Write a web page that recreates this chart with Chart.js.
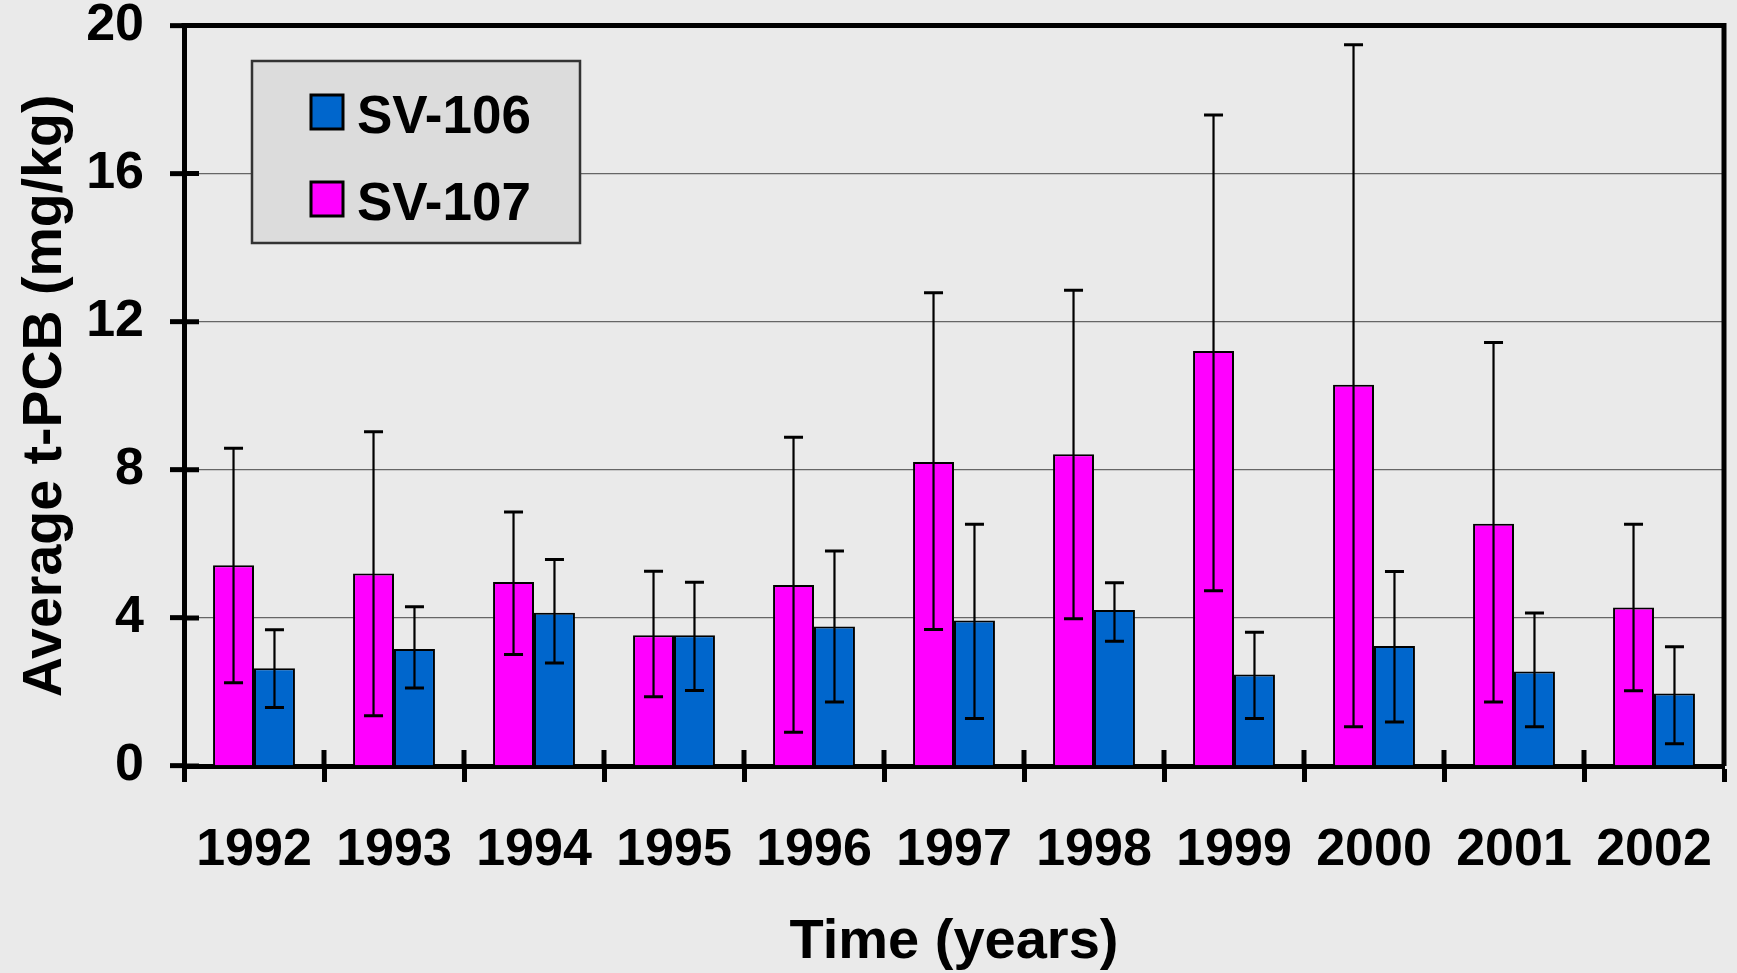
<!DOCTYPE html>
<html>
<head>
<meta charset="utf-8">
<script src="https://cdn.jsdelivr.net/npm/chart.js@4.4.1/dist/chart.umd.min.js"></script>
<style>
  html, body { margin: 0; padding: 0; background: #eaeaea; }
  #wrap { width: 1737px; height: 973px; position: relative; }
</style>
</head>
<body>
<div id="wrap"><canvas id="pcb"></canvas></div>
<script>
// years on the x axis
const years = ['1992', '1993', '1994', '1995', '1996', '1997', '1998', '1999', '2000', '2001', '2002'];

// SV-107 (magenta) means and error bar ends
const sv107Mean  = [5.42, 5.20, 4.97, 3.53, 4.89, 8.21, 8.42, 11.21, 10.30, 6.54, 4.28];
const sv107Upper = [8.58, 9.03, 6.86, 5.26, 8.88, 12.78, 12.85, 17.58, 19.48, 11.44, 6.53];
const sv107Lower = [2.25, 1.36, 3.01, 1.87, 0.91, 3.69, 3.98, 4.73, 1.06, 1.73, 2.03];

// SV-106 (blue)
const sv106Mean  = [2.64, 3.16, 4.14, 3.53, 3.77, 3.93, 4.21, 2.47, 3.24, 2.55, 1.96];
const sv106Upper = [3.68, 4.30, 5.58, 4.96, 5.81, 6.53, 4.95, 3.61, 5.25, 4.13, 3.22];
const sv106Lower = [1.58, 2.11, 2.78, 2.04, 1.73, 1.28, 3.37, 1.28, 1.19, 1.06, 0.60];

const yTicks = [0, 4, 8, 12, 16, 20];

const FONT = '"Liberation Sans", Arial, Helvetica, sans-serif';
Chart.defaults.font.family = FONT;
Chart.defaults.color = '#000';

// error bars drawn on top of each bar
const errorBars = {
    id: 'errorBars',
    afterDatasetsDraw(chart) {
        const ctx = chart.ctx;
        const y = chart.scales.y;
        ctx.save();
        ctx.strokeStyle = '#000';
        chart.data.datasets.forEach((ds, i) => {
            const meta = chart.getDatasetMeta(i);
            meta.data.forEach((bar, j) => {
                const top = y.getPixelForValue(ds.upper[j]);
                const bot = y.getPixelForValue(ds.lower[j]);
                ctx.lineWidth = 2.2;
                ctx.beginPath();
                ctx.moveTo(bar.x, top);
                ctx.lineTo(bar.x, bot);
                ctx.stroke();
                ctx.lineWidth = 3;
                ctx.beginPath();
                ctx.moveTo(bar.x - 9.5, top);
                ctx.lineTo(bar.x + 9.5, top);
                ctx.moveTo(bar.x - 9.5, bot);
                ctx.lineTo(bar.x + 9.5, bot);
                ctx.stroke();
            });
        });
        ctx.restore();
    }
};

// top/right frame and the inner half of the crossing tick marks
const frame = {
    id: 'frame',
    afterDatasetsDraw(chart) {
        const {ctx, chartArea: a} = chart;
        const x = chart.scales.x, y = chart.scales.y;
        ctx.save();
        ctx.strokeStyle = '#000';
        ctx.lineWidth = 5;
        ctx.beginPath();
        ctx.moveTo(a.left - 2.5, a.top);
        ctx.lineTo(a.right, a.top);
        ctx.lineTo(a.right, a.bottom);
        ctx.stroke();
        ctx.beginPath();
        yTicks.forEach(v => {
            const py = y.getPixelForValue(v);
            ctx.moveTo(a.left, py);
            ctx.lineTo(a.left + 15, py);
        });
        for (let i = 1; i < years.length; i++) {
            const px = (x.getPixelForValue(i - 1) + x.getPixelForValue(i)) / 2;
            ctx.moveTo(px, a.bottom);
            ctx.lineTo(px, a.bottom - 16);
        }
        ctx.stroke();
        ctx.restore();
    }
};

// legend box inside the plot, SV-106 listed first
const boxLegend = {
    id: 'boxLegend',
    afterDraw(chart, args, opts) {
        const ctx = chart.ctx;
        ctx.save();
        ctx.fillStyle = '#dcdcdc';
        ctx.fillRect(opts.x, opts.y, opts.w, opts.h);
        ctx.strokeStyle = '#333';
        ctx.lineWidth = 2.5;
        ctx.strokeRect(opts.x, opts.y, opts.w, opts.h);
        const items = chart.data.datasets.slice().reverse();
        items.forEach((ds, k) => {
            const cy = opts.firstY + k * opts.rowGap;
            ctx.fillStyle = ds.backgroundColor;
            ctx.fillRect(opts.boxX, cy - 17, 32, 34);
            ctx.lineWidth = 3;
            ctx.strokeStyle = '#000';
            ctx.strokeRect(opts.boxX, cy - 17, 32, 34);
            ctx.fillStyle = '#000';
            ctx.font = 'bold 53px ' + FONT;
            ctx.textBaseline = 'middle';
            ctx.textAlign = 'left';
            ctx.fillText(ds.label, opts.textX, cy + 6);
        });
        ctx.restore();
    }
};

new Chart(document.getElementById('pcb'), {
    type: 'bar',
    data: {
        labels: years,
        datasets: [
            {
                label: 'SV-107',
                data: sv107Mean,
                upper: sv107Upper,
                lower: sv107Lower,
                backgroundColor: '#ff00ff',
                borderColor: '#000',
                borderWidth: 2
            },
            {
                label: 'SV-106',
                data: sv106Mean,
                upper: sv106Upper,
                lower: sv106Lower,
                backgroundColor: '#0066cc',
                borderColor: '#000',
                borderWidth: 2
            }
        ]
    },
    options: {
        responsive: true,
        maintainAspectRatio: false,
        animation: false,
        layout: { padding: { top: 25.5, right: 13, left: 0, bottom: 0 } },
        datasets: { bar: { barPercentage: 1, categoryPercentage: 0.585 } },
        plugins: {
            legend: { display: false },
            tooltip: { enabled: false },
            boxLegend: { x: 252, y: 61, w: 328, h: 182, boxX: 311, textX: 357, firstY: 112, rowGap: 87 }
        },
        scales: {
            x: {
                offset: true,
                afterFit: s => { s.height = 207; s.paddingLeft = 0; s.paddingRight = 0; },
                grid: {
                    display: true,
                    offset: true,
                    drawOnChartArea: false,
                    drawTicks: true,
                    tickLength: 16,
                    tickWidth: 5,
                    tickColor: '#000'
                },
                border: { display: true, color: '#000', width: 5 },
                ticks: {
                    font: { size: 52, weight: 'bold' },
                    color: '#000',
                    padding: 37,
                    maxRotation: 0,
                    autoSkip: false
                },
                title: {
                    display: true,
                    text: 'Time (years)',
                    font: { size: 56, weight: 'bold', lineHeight: 1.1 },
                    color: '#000',
                    padding: { top: 0, bottom: 0 }
                }
            },
            y: {
                min: 0,
                max: 20,
                afterFit: s => { s.width = 184; s.paddingTop = 0; s.paddingBottom = 0; },
                afterBuildTicks: s => { s.ticks = yTicks.map(v => ({ value: v })); },
                grid: {
                    color: '#666',
                    lineWidth: 1.3,
                    drawTicks: true,
                    tickLength: 14,
                    tickWidth: 5,
                    tickColor: '#000'
                },
                border: { display: true, color: '#000', width: 5 },
                ticks: {
                    font: { size: 52, weight: 'bold' },
                    color: '#000',
                    padding: 26
                },
                title: {
                    display: true,
                    text: 'Average t-PCB (mg/kg)',
                    font: { size: 55.5, weight: 'bold' },
                    color: '#000',
                    padding: { top: 12, bottom: 0 }
                }
            }
        }
    },
    plugins: [errorBars, frame, boxLegend]
});
</script>
</body>
</html>
